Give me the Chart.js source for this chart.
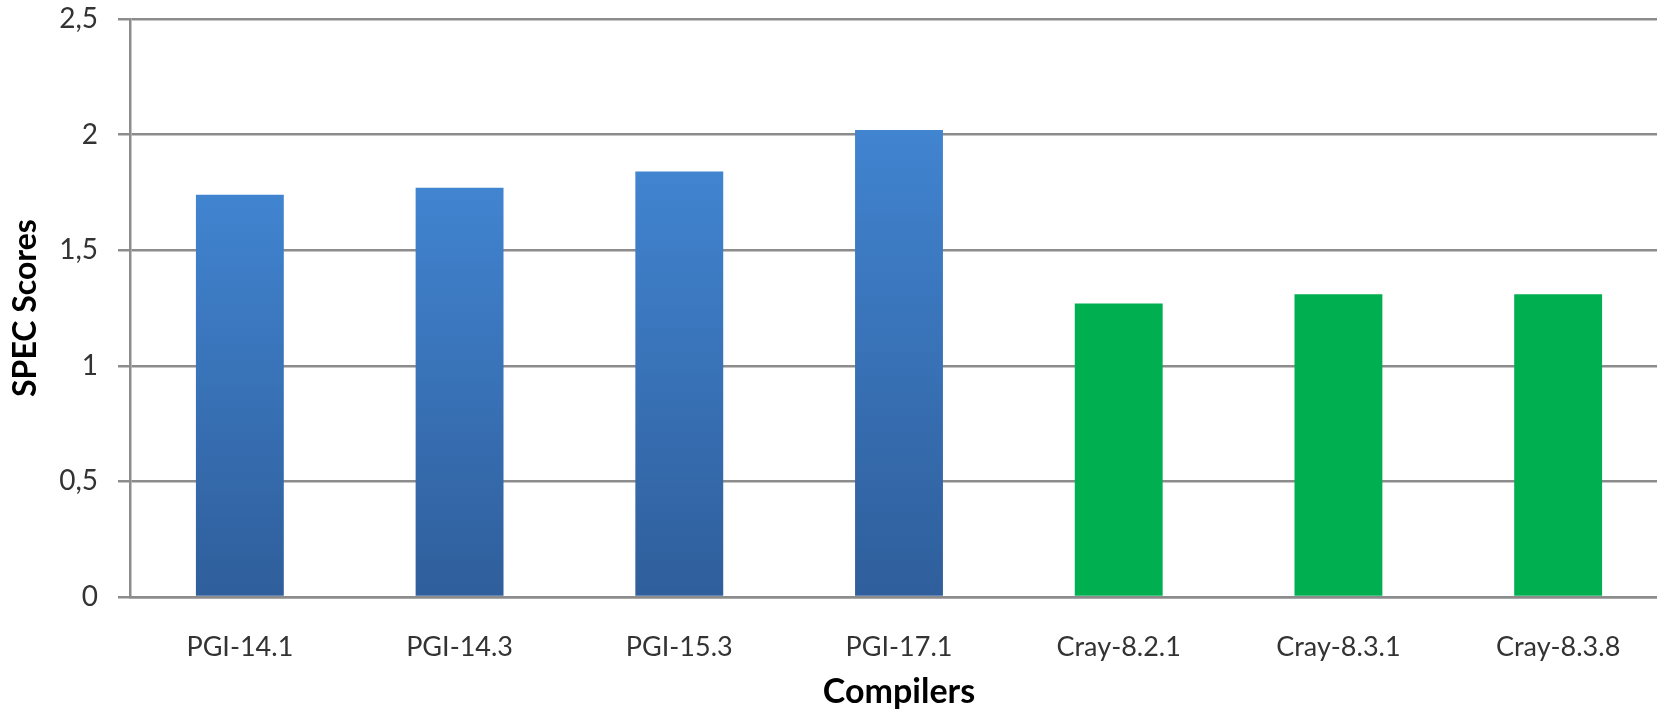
<!DOCTYPE html>
<html>
<head>
<meta charset="utf-8">
<script src="https://cdn.jsdelivr.net/npm/chart.js@4/dist/chart.umd.min.js"></script>
<style>
  html, body { margin: 0; padding: 0; background: #ffffff; overflow: hidden; }
  #wrap { width: 1670px; height: 712px; position: relative; }
</style>
</head>
<body>
<div id="wrap"><canvas id="c" width="1670" height="712"></canvas></div>
<script>
const categories = ['PGI-14.1', 'PGI-14.3', 'PGI-15.3', 'PGI-17.1', 'Cray-8.2.1', 'Cray-8.3.1', 'Cray-8.3.8'];
const specScores = [1.74, 1.77, 1.84, 2.02, 1.27, 1.31, 1.31];
const yTickLabels = ['0', '0,5', '1', '1,5', '2', '2,5'];
const xTitle = 'Compilers';
const yTitle = 'SPEC Scores';

const gridColor = '#8C8C8C';
const fam = 'Lato, "Liberation Sans", sans-serif';
const xLabelFont = { family: fam, size: 27 };
const yLabelFont = { family: fam, size: 28 };
const xTitleFont = { family: fam, size: 34, weight: 'bold' };
const yTitleFont = { family: fam, size: 32, weight: 'bold' };

function barColor(ctx) {
  const chart = ctx.chart;
  if (ctx.type !== 'data') return '#3F7FCB';
  const label = chart.data.labels[ctx.dataIndex];
  if (!label.startsWith('PGI')) return '#00B050';
  const y = chart.scales.y;
  if (!chart.chartArea || !y) return '#3A74BC';
  const top = y.getPixelForValue(ctx.raw);
  const bot = y.getPixelForValue(0);
  const g = chart.ctx.createLinearGradient(0, top, 0, bot);
  g.addColorStop(0, '#4184D0');
  g.addColorStop(1, '#2F5E9B');
  return g;
}

new Chart(document.getElementById('c'), {
  type: 'bar',
  data: {
    labels: categories,
    datasets: [{
      data: specScores,
      backgroundColor: barColor,
      borderWidth: 0,
      barPercentage: 0.4,
      categoryPercentage: 1.0
    }]
  },
  options: {
    responsive: false,
    animation: false,
    layout: { padding: { top: 19, right: 2, left: 0, bottom: 0 } },
    plugins: { legend: { display: false }, tooltip: { enabled: false } },
    scales: {
      x: {
        grid: { display: false },
        border: { display: true, color: gridColor, width: 2.5 },
        ticks: { font: xLabelFont, color: '#333333', padding: 26, maxRotation: 0 },
        title: { display: true, text: xTitle, font: xTitleFont, color: '#000000', padding: { top: 10, bottom: 0 } },
        afterFit: (s) => { s.height = 115; }
      },
      y: {
        min: 0,
        max: 2.5,
        ticks: {
          stepSize: 0.5,
          font: yLabelFont,
          color: '#333333',
          padding: 20,
          callback: (v) => yTickLabels[Math.round(v / 0.5)]
        },
        grid: { color: gridColor, lineWidth: 2.5, tickLength: 12, drawTicks: true },
        border: { display: true, color: gridColor, width: 2.5 },
        title: { display: true, text: yTitle, font: yTitleFont, color: '#000000', padding: { top: 6, bottom: 0 } },
        afterFit: (s) => { s.width = 130; s.paddingTop = 0; s.paddingBottom = 0; }
      }
    }
  }
});
</script>
</body>
</html>
